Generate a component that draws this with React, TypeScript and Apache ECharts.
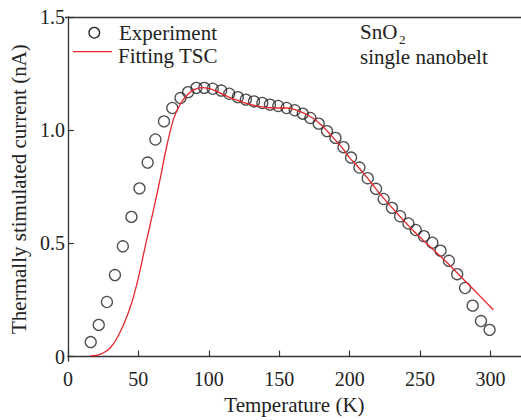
import React, { useEffect, useRef } from "react";
import * as echarts from "echarts";

const xTicks = [0, 50, 100, 150, 200, 250, 300];
const yTicks = [0, 0.5, 1.0, 1.5];

const expT = [
  16.2, 21.9, 27.7, 33.4, 39.0, 45.1, 50.8, 56.6, 62.1, 68.2,
  74.1, 79.9, 85.3, 91.2, 96.8, 102.8, 108.8, 114.5, 120.6, 126.3,
  132.1, 138.0, 143.4, 149.3, 155.2, 161.0, 166.7, 172.1, 178.0, 183.9,
  189.9, 195.6, 201.0, 206.9, 212.8, 218.7, 224.1, 230.0, 235.8, 241.7,
  246.9, 252.7, 258.7, 264.5, 270.4, 276.3, 281.9, 287.3, 293.2, 299.3,
];
const expI = [
  0.064, 0.14, 0.241, 0.36, 0.487, 0.617, 0.743, 0.857, 0.959, 1.039,
  1.098, 1.142, 1.168, 1.187, 1.187, 1.183, 1.175, 1.161, 1.146, 1.135,
  1.127, 1.12, 1.113, 1.107, 1.098, 1.088, 1.073, 1.054, 1.029, 0.996,
  0.966, 0.925, 0.879, 0.835, 0.788, 0.741, 0.696, 0.657, 0.62, 0.588,
  0.559, 0.532, 0.503, 0.468, 0.423, 0.364, 0.303, 0.225, 0.157, 0.118,
];

const fitT = [
  16, 20, 25, 30, 35, 40, 45, 50, 55, 60, 65, 70, 75, 80, 85, 90, 95, 100,
  105, 110, 115, 120, 125, 130, 135, 140, 145, 150, 155, 160, 165, 170, 175,
  180, 185, 190, 195, 200, 205, 210, 215, 220, 225, 230, 235, 240, 245, 250,
  255, 260, 265, 270, 275, 280, 285, 290, 295, 300, 302,
];
const fitI = [
  0.003, 0.005, 0.016, 0.038, 0.083, 0.148, 0.232, 0.348, 0.49, 0.627, 0.77,
  0.925, 1.05, 1.118, 1.158, 1.18, 1.188, 1.185, 1.174, 1.158, 1.144, 1.133,
  1.122, 1.113, 1.106, 1.101, 1.099, 1.098, 1.098, 1.093, 1.082, 1.067, 1.048,
  1.022, 0.99, 0.955, 0.92, 0.878, 0.845, 0.808, 0.77, 0.73, 0.693, 0.658,
  0.623, 0.59, 0.557, 0.527, 0.497, 0.468, 0.44, 0.41, 0.378, 0.346, 0.315,
  0.283, 0.251, 0.219, 0.206,
];

const legendNames = ["Experiment", "Fitting TSC"];
const noteLines = ["SnO", "2", "single nanobelt"];

const FONT = "Liberation Serif";
const TXT = "#222";
const RED = "#e8262a";

const css = `#chart-box svg text { font-family: "Liberation Serif", "Times New Roman", serif !important; }`;

export default function App() {
  const ref = useRef<HTMLDivElement>(null);
  useEffect(() => {
    if (!ref.current) return;
    const chart = echarts.init(ref.current, undefined, { renderer: "svg" });
    const axisLine = { show: true, lineStyle: { color: "#333", width: 1.3 } };
    const txt = (text: string, x: number, y: number, size = 21) => ({
      type: "text",
      x,
      y,
      style: { text, fontFamily: FONT, fontSize: size, fill: TXT, verticalAlign: "middle", align: "left" },
    });
    chart.setOption({
      animation: false,
      backgroundColor: "#fff",
      textStyle: { fontFamily: FONT, color: TXT },
      grid: { left: 65, right: 0, top: 17, bottom: 56, containLabel: false },
      xAxis: {
        type: "value",
        min: 0,
        max: 321.6,
        name: "Temperature (K)",
        nameLocation: "middle",
        nameGap: 30,
        nameTextStyle: { fontFamily: FONT, fontSize: 21, color: TXT, verticalAlign: "top" },
        axisLine,
        axisTick: { show: true, inside: true, length: 6, lineStyle: { color: "#333", width: 1.2 }, customValues: xTicks },
        axisLabel: { fontFamily: FONT, fontSize: 20, color: TXT, margin: 8, customValues: xTicks },
        splitLine: { show: false },
      },
      yAxis: {
        type: "value",
        min: -0.02,
        max: 1.5,
        name: "Thermally stimulated current (nA)",
        nameLocation: "middle",
        nameGap: 36,
        nameTextStyle: { fontFamily: FONT, fontSize: 21, color: TXT },
        axisLine,
        axisTick: { show: true, inside: true, length: 6, lineStyle: { color: "#333", width: 1.2 }, customValues: yTicks },
        axisLabel: {
          fontFamily: FONT,
          fontSize: 20,
          color: TXT,
          margin: 3,
          customValues: yTicks,
          formatter: (v: number) => (v === 0 ? "0" : v.toFixed(1)),
        },
        splitLine: { show: false },
      },
      graphic: [
        { type: "line", shape: { x1: 65, y1: 17.5, x2: 521, y2: 17.5 }, style: { stroke: "#333", lineWidth: 1.3 } },
        { type: "circle", shape: { cx: 94.3, cy: 32.7, r: 5.3 }, style: { fill: "none", stroke: "#222", lineWidth: 1.3 } },
        { type: "line", shape: { x1: 73, y1: 51.7, x2: 112, y2: 51.7 }, style: { stroke: RED, lineWidth: 1.3 } },
        txt(legendNames[0], 119, 33),
        txt(legendNames[1], 118, 56),
        txt(noteLines[0], 360, 32),
        txt(noteLines[1], 399, 39, 13),
        txt(noteLines[2], 360, 57),
      ],
      series: [
        {
          name: legendNames[0],
          type: "scatter",
          symbol: "circle",
          symbolSize: 11,
          itemStyle: { color: "rgba(255,255,255,0)", borderColor: "#222", borderWidth: 1.3 },
          data: expT.map((t, i) => [t, expI[i]]),
        },
        {
          name: legendNames[1],
          type: "line",
          showSymbol: false,
          symbol: "none",
          smooth: 0.3,
          lineStyle: { color: RED, width: 1.3 },
          itemStyle: { color: RED },
          data: fitT.map((t, i) => [t, fitI[i]]),
        },
      ],
    });
    return () => chart.dispose();
  }, []);
  return (
    <>
      <style>{css}</style>
      <div
        id="chart-box"
        ref={ref}
        style={{ position: "fixed", left: 0, top: 0, width: 521, height: 420, background: "#fff" }}
      />
    </>
  );
}
